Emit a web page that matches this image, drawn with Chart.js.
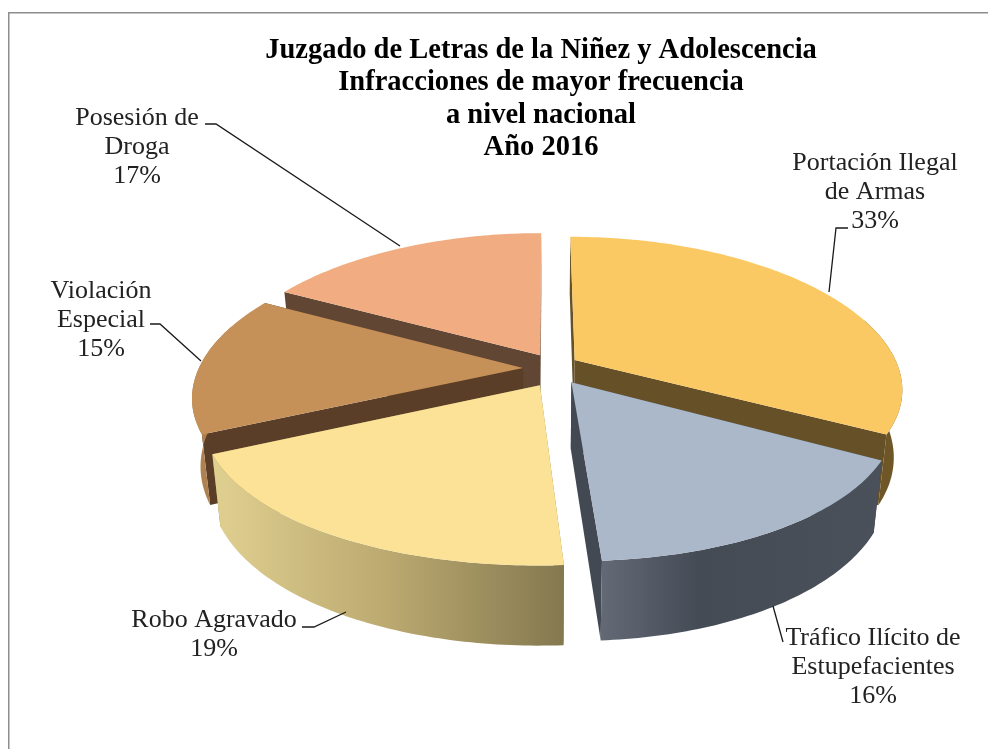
<!DOCTYPE html>
<html lang="es">
<head>
<meta charset="utf-8">
<title>Juzgado de Letras de la Niñez y Adolescencia</title>
<script src="https://cdn.jsdelivr.net/npm/chart.js@4"></script>
<style>html,body{margin:0;padding:0;background:#fff}canvas{display:block}</style>
</head>
<body>
<canvas id="c" width="988" height="749"></canvas>
<script>
const titleLines = ["Juzgado de Letras de la Niñez y Adolescencia","Infracciones de mayor frecuencia","a nivel nacional","Año 2016"];
const categories = ["Portación Ilegal de Armas","Tráfico Ilícito de Estupefacientes","Robo Agravado","Violación Especial","Posesión de Droga"];
const percentages = [33,16,19,15,17];
const labelNameLines = [["Portación Ilegal","de Armas"],["Tráfico Ilícito de","Estupefacientes"],["Robo Agravado"],["Violación","Especial"],["Posesión de","Droga"]];
const topColors = ["#FBC964","#ABB8C9","#FBE296","#C69159","#F1AD81"];
const radialWallColors = ["#665027","#434953","#8F8250","#5A3E28","#624634"];

/* presentation constants */
const CX=547, CY=370, RX=325, RY=146, PERSP_X=0.19, PERSP_Y=0.16, DEPTH=66, BOTTOM_SHRINK=0.024;
const sliceShift=[[28,-10],[24,12],[-7,15],[-24,-2],[-7,-15]];
const sliceWidthScale=[1,0.965,1,1,1];
const paintOrder=[4,0,3,1,2];
const wallStops=[
  [[0,"#6E5627"],[1,"#6E5627"]],
  [[0,"#636A76"],[0.35,"#454B55"],[1,"#4A515B"]],
  [[0,"#E0D090"],[0.5,"#BBA970"],[1,"#84784F"]],
  [[0,"#B08352"],[1,"#A87C4C"]],
  [[0,"#624634"],[1,"#624634"]]
];
const labelCenters=[[875,163],[873,638],[214,620],[101,291],[137,118]];
const leaderPaths=[
  [[848,228],[836,228],[829,292]],
  [[783,642],[773,606]],
  [[302,627],[314,627],[346,612]],
  [[150,324],[160,324],[201,361]],
  [[205,124],[216,124],[400,246]]
];

const toScreen=(i,X,Y,z)=>{
  const xp=X*sliceWidthScale[i]+sliceShift[i][0]/RX, yp=Y+sliceShift[i][1]/RY;
  const sx=1/(1-PERSP_X*yp), sy=1/(1-PERSP_Y*yp);
  return [CX+RX*xp*sx*(1-z*BOTTOM_SHRINK), CY+RY*yp*sy+z*DEPTH*sy];
};
const project=(i,a,z)=>toScreen(i,Math.cos(a),Math.sin(a),z);
const apex=(i,z)=>toScreen(i,0,0,z);
const samples=(a0,a1)=>{const n=Math.max(2,Math.ceil(Math.abs(a1-a0)*60)),o=[];for(let k=0;k<=n;k++)o.push(a0+(a1-a0)*k/n);return o;};
const poly=(ctx,pts,fill)=>{ctx.beginPath();pts.forEach((p,k)=>k?ctx.lineTo(p[0],p[1]):ctx.moveTo(p[0],p[1]));ctx.closePath();ctx.fillStyle=fill;ctx.fill();};

const pie3d={
  id:"pie3d",
  beforeDraw(chart){
    const ctx=chart.ctx;ctx.save();ctx.strokeStyle="#8E8E8E";ctx.lineWidth=1.5;
    ctx.beginPath();ctx.moveTo(8.75,749);ctx.lineTo(8.75,12.75);ctx.lineTo(988,12.75);ctx.stroke();ctx.restore();
  },
  beforeDatasetsDraw(chart){
    const ctx=chart.ctx,arcs=chart.getDatasetMeta(0).data;
    ctx.save();
    paintOrder.forEach(i=>{
      const arc=arcs[i],a0=arc.startAngle,a1=arc.endAngle;
      [a0,a1].forEach(a=>{
        poly(ctx,[apex(i,0),project(i,a,0),project(i,a,1),apex(i,1)],radialWallColors[i]);
      });
      const front=samples(a0,a1).filter(a=>Math.sin(a)>-0.3);
      if(front.length>1){
        const t=front.map(a=>project(i,a,0)),b=front.map(a=>project(i,a,1)).reverse();
        const xs=t.concat(b).map(p=>p[0]),x0=Math.min(...xs),x1=Math.max(...xs);
        const g=ctx.createLinearGradient(x0,0,x1,0);
        wallStops[i].forEach(s=>g.addColorStop(s[0],s[1]));
        poly(ctx,t.concat(b),g);
      }
      const top=[apex(i,0)].concat(samples(a0,a1).map(a=>project(i,a,0)));
      poly(ctx,top,topColors[i]);
    });
    ctx.restore();
    return false;
  },
  afterDraw(chart){
    const ctx=chart.ctx;ctx.save();
    ctx.strokeStyle="#1a1a1a";ctx.lineWidth=1.3;
    leaderPaths.forEach(path=>{ctx.beginPath();path.forEach((p,k)=>k?ctx.lineTo(p[0],p[1]):ctx.moveTo(p[0],p[1]));ctx.stroke();});
    ctx.fillStyle="#222";ctx.font='26px "Liberation Serif"';ctx.textAlign="center";ctx.textBaseline="middle";
    labelNameLines.forEach((lines,i)=>{
      const all=lines.concat([percentages[i]+"%"]),c=labelCenters[i];
      all.forEach((t,k)=>ctx.fillText(t,c[0],c[1]+k*29.3));
    });
    ctx.restore();
  }
};

new Chart(document.getElementById("c"),{
  type:"pie",
  data:{labels:categories,datasets:[{data:percentages,backgroundColor:topColors,borderWidth:0}]},
  options:{
    responsive:false,animation:false,
    layout:{padding:{left:94}},
    plugins:{
      legend:{display:false},tooltip:{enabled:false},
      title:{display:true,fullSize:false,text:titleLines,color:"#000",
        font:{family:'"Liberation Serif"',size:28.5,weight:"bold",lineHeight:1.125},padding:{top:35,bottom:0}}
    }
  },
  plugins:[pie3d]
});
</script>
</body>
</html>
